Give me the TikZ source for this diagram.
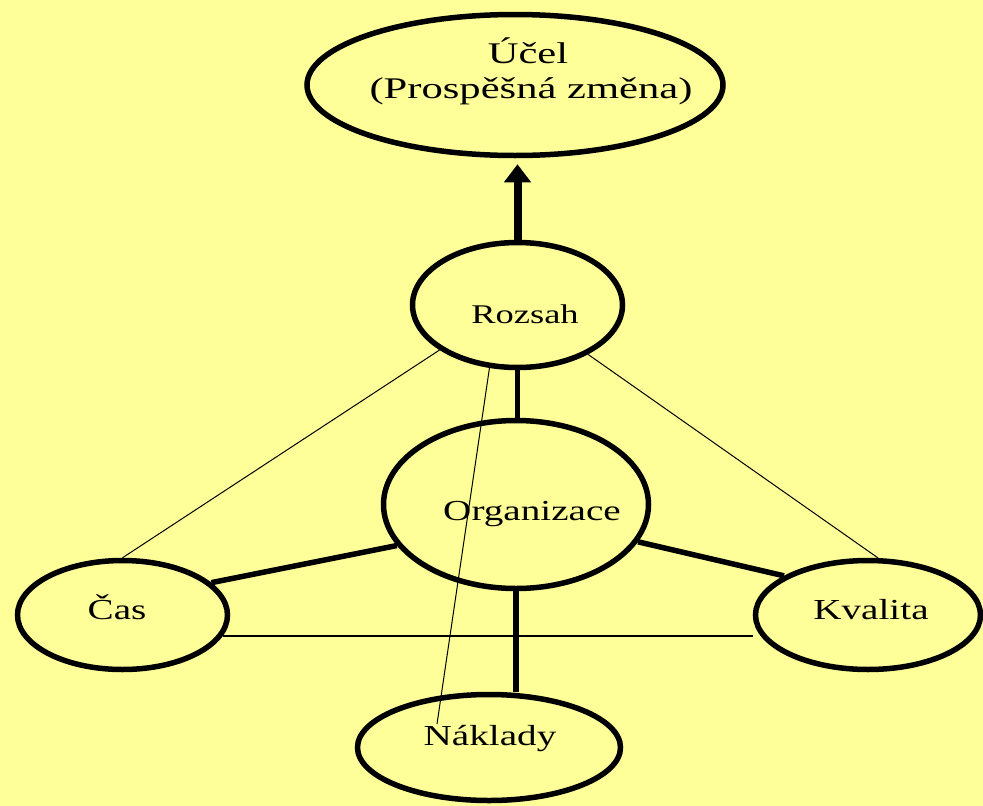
\documentclass[tikz,border=0pt]{standalone}
\usepackage{fontspec}
\setmainfont{Liberation Serif}[FakeStretch=1.35]
\newfontfamily\widefont{Liberation Serif}[FakeStretch=1.42]
\usetikzlibrary{shapes.geometric,arrows.meta}
\definecolor{paper}{RGB}{255,255,153}
\tikzset{
  oval/.style={ellipse, draw=black, line width=5.5pt, fill=paper, inner sep=0pt},
  lbl/.style={anchor=base, inner sep=0pt, font=\fontsize{29}{34}\selectfont},
  biglbl/.style={anchor=base, inner sep=0pt, font=\widefont\fontsize{30}{36}\selectfont},
  heavy/.style={line width=5.5pt},
  lift/.style={line width=8pt, -{Triangle[width=26pt,length=18pt]}, shorten >=6pt},
  fine/.style={line width=1pt},
  floor/.style={line width=1.6pt}
}
\begin{document}
\begin{tikzpicture}[x=1pt,y=-1pt]
  % page and background
  \fill[paper] (0,0) rectangle (983,806);
  \useasboundingbox (0,0) rectangle (983,806);

  % ovals
  \node[oval, minimum width=416pt, minimum height=141pt] (ucel) at (515,85) {};
  \node[oval, minimum width=210pt, minimum height=125pt] (roz) at (517.5,305) {};
  \node[oval, minimum width=265pt, minimum height=168pt] (org) at (516,504.5) {};
  \node[oval, minimum width=210pt, minimum height=109pt] (cas) at (122.5,615) {};
  \node[oval, minimum width=225pt, minimum height=109pt] (kval) at (868,615) {};
  \node[oval, minimum width=263pt, minimum height=106pt] (nak) at (489,747.5) {};

  % free end of the line running down into the cost oval
  \coordinate (nakend) at (437,724);

  % thin links
  \draw[fine] (roz.210) -- (cas.north);
  \draw[fine] (roz.-35) -- (kval.80);
  \draw[fine] (roz.246) -- (nakend);
  \draw[floor] (cas.-12) -- (cas.-12 -| kval.west);

  % heavy links
  \draw[lift] (roz.north) -- (roz.north |- ucel.south);
  \draw[heavy] (roz.south) -- (roz.south |- org.north);
  \draw[heavy] (org.199) -- (cas.20);
  \draw[heavy] (org.343) -- (kval.155);
  \draw[heavy] (org.south) -- (org.south |- nak.north);

  % labels
  \node[biglbl] (t-ucel) at (528,63) {Účel};
  \node[biglbl] (t-zmena) at (531,98) {(Prospěšná změna)};
  \node[lbl, font=\fontsize{27}{32}\selectfont] (t-roz) at (525,323) {Rozsah};
  \node[lbl] (t-org) at (532,520) {Organizace};
  \node[lbl] (t-cas) at (117,619) {Čas};
  \node[lbl] (t-kval) at (871,619) {Kvalita};
  \node[lbl] (t-nak) at (490,745) {Náklady};
\end{tikzpicture}
\end{document}
